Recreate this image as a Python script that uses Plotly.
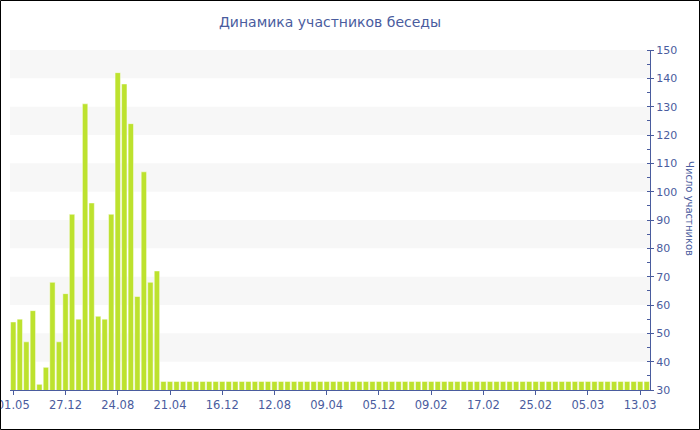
import plotly.graph_objs as go

# participants per conversation period (first 23 periods vary, then flat)
peaks = [54, 55, 47, 58, 32, 38, 68, 47, 64, 92, 55, 131, 96, 56, 55,
         92, 142, 138, 124, 63, 107, 68, 72]
flat = [33] * 75
values = peaks + flat
positions = list(range(len(values)))

tick_pos = list(range(0, 97, 8))
tick_labels = ['01.05', '27.12', '24.08', '21.04', '16.12', '12.08', '09.04',
               '05.12', '09.02', '17.02', '25.02', '05.03', '13.03']

blue = '#4a5c9e'
font = 'DejaVu Sans, Verdana, sans-serif'

W, H = 700, 430
ml, mr, mt, mb = 10, 50, 50, 40
pw, ph = W - ml - mr, H - mt - mb


def band(lo, hi):
    return {
        'type': 'rect', 'xref': 'paper', 'yref': 'y',
        'x0': 0, 'x1': 1, 'y0': lo, 'y1': hi,
        'fillcolor': '#f7f7f7', 'line': {'width': 0}, 'layer': 'below',
    }


shapes = [band(lo, lo + 10) for lo in range(40, 150, 20)]
# outer frame of the picture
shapes.append({
    'type': 'rect', 'xref': 'paper', 'yref': 'paper',
    'x0': -ml / pw + 0.5 / pw, 'x1': 1 + (mr - 0.5) / pw,
    'y0': -mb / ph + 0.5 / ph, 'y1': 1 + (mt - 0.5) / ph,
    'line': {'color': 'black', 'width': 1}, 'fillcolor': 'rgba(0,0,0,0)',
})

bars = go.Bar(x=positions, y=values,
              marker=dict(color='#bde22e',
                          line=dict(color='rgba(255,255,255,0.45)', width=1)),
              hoverinfo='y')

layout = go.Layout(
    width=W, height=H,
    margin=dict(l=ml, r=mr, t=mt, b=mb, autoexpand=False),
    paper_bgcolor='white', plot_bgcolor='white',
    font=dict(family=font, size=11, color=blue),
    title=dict(text='Динамика участников беседы', x=0.5, xref='paper',
               y=1 - 22 / H, yanchor='middle',
               font=dict(family=font, size=14, color=blue)),
    bargap=0.18,
    showlegend=False,
    xaxis=dict(range=[-0.5, len(values) - 0.5], tickvals=tick_pos,
               ticktext=tick_labels, showgrid=False, zeroline=False,
               showline=True, linecolor=blue, linewidth=1, automargin=False,
               ticklabeloverflow='allow', tickfont=dict(size=11.5),
               ticks='outside', ticklen=4, tickcolor=blue),
    yaxis=dict(range=[30, 150], side='right', dtick=10, showgrid=False,
               zeroline=False, showline=True, linecolor=blue, linewidth=1,
               automargin=False, ticklabeloverflow='allow',
               ticks='outside', ticklen=3, tickcolor=blue,
               minor=dict(dtick=5, ticks='inside', ticklen=3, tickcolor=blue)),
    shapes=shapes,
    annotations=[dict(text='Число участников', xref='paper', yref='paper',
                      x=1 + 40 / pw, y=0.535, xanchor='center', yanchor='middle',
                      showarrow=False, textangle=90,
                      font=dict(family=font, size=10, color=blue))],
)

fig = go.Figure(data=[bars], layout=layout)
fig.write_html("out.html", config={'displayModeBar': False},
               post_script="document.body.style.margin='0';")
